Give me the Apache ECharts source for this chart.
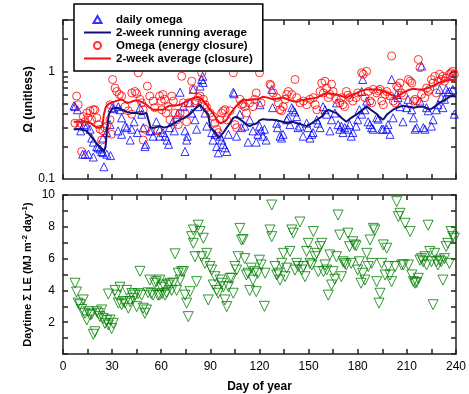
<!DOCTYPE html>
<html><head><meta charset="utf-8">
<script src="https://cdn.jsdelivr.net/npm/echarts@6/dist/echarts.min.js"></script>
<style>html,body{margin:0;padding:0;background:#fff}#c{width:469px;height:394px}</style>
</head><body><div id="c"></div>
<script>
// ---- data ----
var omegaDays = [6.7,7.3,8.8,10,10.8,12,12.8,13.5,14.5,15.5,16.5,17.5,18.5,18.5,20.6,21.4,22.6,23.6,24.4,24.4,25,26.7,26.7,28.7,29,30,31,33.6,33.8,34.8,35.8,35.8,37.9,39,41,42,43.4,45.4,47,48,49,50,50.5,53,54,55,57,59,59.2,61,62.5,63.5,64.5,65,67,68,70,71.5,73.5,74.5,74.5,75.5,76,77.6,78.6,79.5,80.6,81.6,82.5,83.7,84.7,85.3,85.6,86.7,87.8,90.8,91.6,92.8,93.8,94.8,95.9,96.9,97.7,99,100,101,104,104.5,106,108,109,111,113,114,116,118,119,120,120.3,121,122,123,124,127.5,128,130.5,131,132.5,133.5,134.4,136.6,137.4,138.6,139.7,140.5,141.5,142.7,143.5,144.7,146.6,148.8,149.6,150.8,151.9,152.7,155,155.7,157,158.8,160,161,163,164,166,167,168,169,170,171,172,174,175,176,177,179,180,181,182.4,182.4,183,184.4,185.5,186.3,187.5,188.5,189.4,191.6,192.5,194.6,195.5,197.7,198.5,199.7,200.7,201.6,203.8,204.6,205.8,207.6,209.9,210.7,213,214,215,216,218,219,220,221,222,223,225,226,228,229,230,231,232,233,234,235,236,237,238,239];
var omegaVals = [0.48,0.47,0.44,0.32,0.28,0.17,0.32,0.17,0.31,0.17,0.29,0.24,0.22,0.16,0.2,0.195,0.19,0.18,0.176,0.24,0.13,0.17,0.27,0.32,0.165,0.46,0.45,0.28,0.47,0.44,0.26,0.37,0.31,0.30,0.23,0.29,0.34,0.27,0.46,0.40,0.30,0.2,0.21,0.28,0.28,0.25,0.34,0.25,0.29,0.27,0.25,0.23,0.21,0.30,0.34,0.28,0.40,0.64,0.47,0.28,0.18,0.23,0.25,0.51,0.41,0.68,0.355,0.29,0.47,0.73,0.84,0.90,0.79,0.41,0.31,0.27,0.23,0.26,0.2,0.175,0.25,0.23,0.21,0.195,0.18,0.26,0.64,0.62,0.25,0.40,0.30,0.31,0.22,0.355,0.28,0.22,0.26,0.31,0.49,0.28,0.25,0.29,0.23,0.68,0.46,0.33,0.30,0.25,0.24,0.26,0.355,0.37,0.32,0.46,0.44,0.42,0.38,0.30,0.31,0.25,0.33,0.30,0.24,0.26,0.27,0.355,0.33,0.30,0.47,0.44,0.40,0.28,0.355,0.41,0.51,0.32,0.29,0.31,0.27,0.30,0.29,0.32,0.25,0.27,0.31,0.355,0.44,0.65,0.40,0.84,0.44,0.53,0.34,0.32,0.30,0.29,0.37,0.36,0.29,0.29,0.29,0.32,0.26,0.84,0.37,0.61,0.57,0.47,0.34,0.46,0.55,0.44,0.37,0.29,0.30,0.53,1.12,0.30,0.29,0.46,0.43,0.31,0.355,0.44,0.49,0.68,0.57,0.46,0.55,0.68,0.64,0.65,0.90,0.68,0.40];

var avgDays = [6.5,10,14.5,17,19,21,23,25,26,27,28,30,33,36,39,42,45,48,51,52,53.5,56,59,62,65,68,71.5,74,77.6,80,83.7,86,88.6,89.8,91,93,95,96,98,100,102,104,106,108,110,112,114,116,118.5,120,122,125,128,131,134,137,140,143,146,149,152,155,158,160,162,165,167,170,173,176,179.5,182,185.6,188,191.8,193,195.5,198,201.6,204,207.6,211,214,217,220,224,227,230,233,236,238,240];
var avgOmega = [0.29,0.29,0.28,0.25,0.23,0.21,0.195,0.18,0.2,0.3,0.4,0.45,0.46,0.44,0.42,0.41,0.41,0.40,0.41,0.36,0.30,0.30,0.31,0.30,0.31,0.33,0.355,0.37,0.40,0.44,0.49,0.44,0.40,0.31,0.29,0.27,0.24,0.23,0.27,0.30,0.33,0.37,0.38,0.36,0.34,0.32,0.31,0.32,0.33,0.35,0.36,0.355,0.355,0.35,0.34,0.33,0.34,0.33,0.32,0.31,0.33,0.355,0.38,0.42,0.44,0.42,0.41,0.37,0.34,0.37,0.40,0.43,0.47,0.44,0.40,0.38,0.355,0.40,0.44,0.46,0.48,0.47,0.46,0.47,0.47,0.44,0.47,0.51,0.54,0.58,0.59,0.58];

var closureDays = [7.3,8.3,9.3,10.4,11.4,12.4,13.4,14.5,15.3,16.5,17.5,18.5,19.5,20.6,21.6,22.6,23.6,24.4,25.6,26.7,28.7,28.7,29.7,30.3,31.8,32.8,34.4,35.8,37.9,39.9,42,42,44,45,46,47,48,49,49,50,51.5,53,55,56,58,59,60,60.3,61,62,63,64.3,65.3,66.4,67.4,68.4,69.4,70.4,71.5,72.5,73.5,74.5,75.5,76.5,78.6,79.6,80.6,81.6,82.6,83.7,84.7,85.7,86.7,87.8,89.8,91.8,92.8,93.9,94.8,95.9,96.9,97.9,98.9,100,102,104,105,106,108,109,110,111,112,114,116,117,118,120,121,126.4,127,128.4,130.5,131.5,132.5,133.5,134.5,135.6,136.6,137.6,139.7,141.7,142.7,144.7,146.8,148.8,150.8,152.9,154,155,157,158,159,160,161,162,163,164,165,167,169,170,171,172,173,174,175,177,179,180,182.4,183.4,184.4,185.4,186.4,187.5,188.5,189.5,191.6,192.6,193.6,194.6,195.6,196.7,197.7,199.7,200.7,201.7,202.8,203.8,204.8,205.8,206.8,208,210.9,212,213,214,215,216,217,218,219,221,222,223,224,225,226,227,228,229,230,231,232,233,234,236,237,238,239];
var closureVals = [0.33,0.59,0.49,0.33,0.18,0.38,0.34,0.41,0.37,0.43,0.355,0.44,0.44,0.37,0.32,0.29,0.23,0.28,0.30,0.31,0.355,0.49,0.26,0.84,0.70,0.65,0.61,0.59,0.47,0.43,0.40,0.63,0.65,0.62,0.97,0.55,0.51,0.44,0.23,0.29,0.73,0.59,0.53,0.46,0.28,0.59,0.53,0.44,0.61,0.55,0.41,0.47,0.355,0.59,0.53,0.41,0.355,0.32,0.41,0.90,0.51,0.41,0.34,0.51,0.81,0.68,0.51,0.53,0.57,0.59,0.97,0.55,0.49,0.46,0.41,0.38,0.33,0.29,0.27,0.355,0.41,0.43,0.44,0.355,0.43,0.97,0.32,0.30,0.55,0.49,0.50,0.47,0.41,0.51,0.47,0.55,0.63,0.97,0.51,0.76,0.74,0.63,0.57,0.51,0.44,0.43,0.47,0.55,0.61,0.65,0.61,0.84,0.57,0.51,0.53,0.49,0.55,0.57,0.49,0.44,0.65,0.78,0.63,0.81,0.70,0.57,0.61,0.76,0.65,0.55,0.51,0.57,0.49,0.47,0.65,0.60,0.57,0.53,0.57,0.63,0.97,0.94,0.57,1.0,0.65,0.53,0.51,0.68,0.63,0.66,0.68,0.53,0.49,0.61,0.65,0.59,1.39,0.53,0.51,0.73,0.70,0.78,0.63,0.60,0.84,0.81,0.78,0.53,0.55,0.53,1.29,1.08,0.61,0.57,0.70,0.65,0.68,0.84,0.78,0.90,0.63,0.81,0.94,0.84,0.90,0.81,0.87,0.94,0.97,1.0,0.94];

var closureAvgDays = [6.5,10,14.5,17,19,22,24,25,26,28,31,34,36,38,40,43,45,48,51,53,55,58,61,63,65,68,71.5,75,77.6,80,82.5,85,86.7,88,89.8,92,94,96,97,98.5,100,102,104,106,108,110,113,116,118.5,122,125,128,131,134,137,140,143,146,149,152,155,158,161,164,167,170,173,176,179.5,182,185.6,189,192,195,198,201,204,207.6,211,214,217,220,224,227,230,233,236,238,240];
var closureAvg = [0.34,0.34,0.34,0.33,0.31,0.30,0.31,0.40,0.46,0.50,0.52,0.54,0.55,0.52,0.51,0.53,0.54,0.52,0.49,0.46,0.44,0.44,0.44,0.46,0.48,0.48,0.49,0.52,0.55,0.57,0.58,0.55,0.51,0.48,0.44,0.40,0.355,0.33,0.32,0.34,0.355,0.40,0.44,0.48,0.51,0.55,0.54,0.55,0.55,0.58,0.57,0.55,0.56,0.57,0.55,0.53,0.52,0.54,0.55,0.56,0.57,0.60,0.63,0.62,0.61,0.59,0.57,0.60,0.63,0.66,0.68,0.68,0.68,0.66,0.63,0.60,0.58,0.63,0.67,0.69,0.68,0.68,0.71,0.75,0.79,0.81,0.84,0.83,0.81];

var leDays = [7.3,8.3,9.3,10.4,11.4,12.4,13.4,14.5,15.5,16.5,17.5,18.5,19.5,20.6,21.6,22.6,23.6,24.6,25.6,26.7,27.7,27.7,28.7,29.7,30.7,31.8,32.8,33.8,34.8,35.8,36.8,37.9,38.9,39.9,40.9,42,43,44,45,46,47,48,49,50,51,52,53,54,55,56,57,58,59,59.2,60,60.5,61.3,62.3,63.3,64.3,65.3,66.4,67.4,68.4,69.4,70.4,71.5,72.5,73.5,74.5,75.5,76.5,77.6,78.6,79.6,79.6,80.6,81.6,82.6,83.7,84.7,85.7,86.7,87.8,88.7,89.8,90.8,91.8,92.8,93.9,94.8,95.9,96.9,97.9,98.9,100,101,102,103,104,105,106,107,108,109,110,111,112,113,114,115,116,117,118,119,120,121,123,123.4,126.4,127.5,127.5,129.5,130.5,131.5,132.5,133.6,134.6,135.6,136.6,138.6,139.7,140.7,141.7,142.7,143.7,144.7,145.8,146.8,147.8,148.8,149.8,150.8,151.9,152.9,153.9,154.9,155.9,157,158,159,160,161,162,163,164,165,166,167,168,169,170,171,172,173,174,175,176,177,178,179,180,181,182,183,184.4,185.5,186.4,187.5,188.5,189.5,190.5,191.6,193,193.6,194.6,195.6,196.7,197.7,198.7,199.7,200.7,202.8,203.8,204.8,205.8,206.8,207.9,208.9,211,212,213,214,215,216,217,218,219,220,221,222,223,224,225,226,227,228,229,230,231,232,233,234,235,236,237,238,239];
var leVals = [4.45,3.9,3.2,3.1,2.8,3.4,2.56,2.14,2.66,2.45,2.5,1.24,1.4,2.66,2.56,2.35,2.77,2.24,1.93,2.1,1.82,3.77,2.14,1.6,1.93,4.0,3.7,3.2,4.2,3.1,3.3,3.2,4.0,2.88,3.3,3.8,3.5,3.7,2.98,3.8,5.2,3.7,2.88,2.56,2.77,3.85,4.65,3.8,3.7,4.45,4.55,3.7,3.7,4.65,4.2,3.8,4.34,3.7,3.85,4.34,4.45,4.0,4.45,6.3,4.0,5.08,4.65,5.18,5.18,3.7,3.2,2.35,3.92,7.38,7.8,6.96,6.12,4.55,8.1,7.7,6.12,7.28,5.7,6.33,3.4,5.5,5.28,4.34,4.86,4.0,3.82,4.65,4.45,4.23,3.4,2.98,4.23,4.76,4.76,3.82,5.5,5.28,6.12,7.9,7.17,7.2,6.0,4.97,5.08,4.0,5.4,4.65,5.18,3.92,5.08,5.9,5.6,3.0,5.08,7.8,7.38,9.37,5.5,4.97,5.08,4.65,5.7,6.33,4.86,5.4,6.45,7.8,7.6,5.28,5.7,5.5,8.3,5.28,5.5,4.86,6.45,6.96,5.7,5.6,7.7,6.12,6.33,5.18,6.75,6.96,5.18,5.6,5.28,3.7,6.23,4.34,5.18,4.7,6.12,8.74,7.48,4.86,5.8,5.7,5.6,7.6,6.75,5.7,7.06,6.86,6.8,5.28,5.8,4.45,5.08,4.65,6.33,5.5,7.17,5.7,7.9,7.8,4.55,3.2,3.82,5.7,6.86,4.97,6.65,5.5,4.97,4.55,5.5,9.58,8.64,8.85,5.6,5.6,8.22,5.6,7.7,4.97,4.55,4.45,4.5,4.76,5.9,6.0,5.8,6.12,5.6,8.1,6.45,5.8,3.1,6.33,5.8,5.6,5.9,5.8,4.65,6.0,6.75,6.96,5.7,7.7,7.38,7.28];

var omegaLabels = [0.1, 1];
var omegaMinorTicks = [0.2,0.3,0.4,0.5,0.6,0.7,0.8,0.9,1,2,3];

function zip(a, b) { return a.map(function (v, i) { return [v, b[i]]; }); }

var FONT = 'Liberation Sans';
var axisLineStyle = { color: '#222', width: 1.5 };
function xAx(grid, pos, labels) {
  return {
    type: 'value', gridIndex: grid, position: pos, min: 0, max: 240, interval: 15,
    axisLine: { show: true, onZero: false, lineStyle: axisLineStyle },
    axisTick: { show: true, inside: true, length: 5, lineStyle: { color: '#222', width: 1.5 } },
    axisLabel: labels ? {
      show: true, fontFamily: FONT, fontSize: 12, color: '#000', margin: 7,
      formatter: function (v) { return v % 30 === 0 ? String(v) : ''; }
    } : { show: false },
    splitLine: { show: false }
  };
}
function yLog(pos, labels) {
  return {
    type: 'log', logBase: 10, gridIndex: 0, position: pos, min: 0.1, max: 3,
    axisLine: { show: true, onZero: false, lineStyle: axisLineStyle },
    axisTick: { show: true, inside: true, length: 5, customValues: omegaMinorTicks, lineStyle: { color: '#222', width: 1.5 } },
    axisLabel: labels ? { show: true, customValues: omegaLabels, fontFamily: FONT, fontSize: 12, color: '#000', margin: 8,
      formatter: function (v) { return String(v); } } : { show: false },
    splitLine: { show: false }
  };
}
function yLin(pos, labels) {
  return {
    type: 'value', gridIndex: 1, position: pos, min: 0, max: 10, interval: 1,
    axisLine: { show: true, onZero: false, lineStyle: axisLineStyle },
    axisTick: { show: true, inside: true, length: 5, lineStyle: { color: '#222', width: 1.5 } },
    axisLabel: labels ? { show: true, fontFamily: FONT, fontSize: 12, color: '#000', margin: 8,
      formatter: function (v) { return (v % 2 === 0 && v > 0) ? String(v) : ''; } } : { show: false },
    splitLine: { show: false }
  };
}

var xAxes = [xAx(0, 'bottom', false), xAx(0, 'top', false), xAx(1, 'bottom', true), xAx(1, 'top', false)];
xAxes[2].name = 'Day of year';
xAxes[2].nameLocation = 'middle';
xAxes[2].nameGap = 27;
xAxes[2].nameTextStyle = { fontFamily: FONT, fontWeight: 'bold', fontSize: 12, color: '#000' };

var yAxes = [yLog('left', true), yLog('right', false), yLin('left', true), yLin('right', false)];
yAxes[0].name = 'Ω (unitless)';
yAxes[0].nameLocation = 'middle';
yAxes[0].nameGap = 28;
yAxes[0].nameMoveOverlap = false;
yAxes[0].nameRotate = 90;
yAxes[0].nameTextStyle = { fontFamily: FONT, fontWeight: 'bold', fontSize: 12, color: '#000' };
yAxes[2].name = 'Daytime Σ LE (MJ m{s|-2} day{s|-1})';
yAxes[2].nameLocation = 'middle';
yAxes[2].nameGap = 28;
yAxes[2].nameMoveOverlap = false;
yAxes[2].nameRotate = 90;
yAxes[2].nameTextStyle = { fontFamily: FONT, fontWeight: 'bold', fontSize: 11, color: '#000', lineHeight: 14,
  rich: { s: { fontFamily: FONT, fontWeight: 'bold', fontSize: 8, color: '#000', verticalAlign: 'top', lineHeight: 14 } } };

// legend icons (extent 27x8 kept by leading moveTo points)
var ICON_TRI = 'path://M0,0 M27,8 M13.5,0.5 L17.5,7.5 L9.5,7.5 Z';
var ICON_CIRC = 'path://M0,0 M27,8 M17,4 A3.5,3.5 0 1 1 10,4 A3.5,3.5 0 1 1 17,4 Z';
var ICON_LINE = 'path://M0,0 M27,8 M0,3 L27,3 L27,5 L0,5 Z';

var chart = echarts.init(document.getElementById('c'), null, { renderer: 'canvas' });
chart.setOption({
  backgroundColor: '#fff',
  animation: false,
  grid: [
    { left: 63, top: 20, width: 393, height: 159 },
    { left: 63, top: 195, width: 393, height: 159 }
  ],
  xAxis: xAxes,
  yAxis: yAxes,
  legend: {
    data: [
      { name: 'daily omega', icon: ICON_TRI },
      { name: '2-week running average', icon: ICON_LINE },
      { name: 'Omega (energy closure)', icon: ICON_CIRC },
      { name: '2-week average (closure)', icon: ICON_LINE }
    ],
    orient: 'vertical', left: 74, top: 4,
    itemWidth: 27, itemHeight: 8, itemGap: 0,
    padding: [9, 10, 6, 9],
    backgroundColor: '#fff', borderColor: '#000', borderWidth: 1.5,
    textStyle: { fontFamily: FONT, fontWeight: 'bold', fontSize: 11.5, color: '#000', lineHeight: 13 }
  },
  series: [
    { name: 'daily omega', type: 'scatter', xAxisIndex: 0, yAxisIndex: 0, data: zip(omegaDays, omegaVals),
      symbol: 'triangle', symbolSize: 8,
      itemStyle: { color: 'rgba(0,0,0,0)', borderColor: '#0000ff', borderWidth: 1 } },
    { name: '2-week running average', type: 'line', xAxisIndex: 0, yAxisIndex: 0, data: zip(avgDays, avgOmega),
      symbol: 'none', lineStyle: { color: '#10107a', width: 2 }, itemStyle: { color: '#10107a' } },
    { name: 'Omega (energy closure)', type: 'scatter', xAxisIndex: 0, yAxisIndex: 0, data: zip(closureDays, closureVals),
      symbol: 'circle', symbolSize: 8,
      itemStyle: { color: 'rgba(0,0,0,0)', borderColor: '#ff0000', borderWidth: 1 } },
    { name: '2-week average (closure)', type: 'line', xAxisIndex: 0, yAxisIndex: 0, data: zip(closureAvgDays, closureAvg),
      symbol: 'none', lineStyle: { color: '#ee1111', width: 2 }, itemStyle: { color: '#ee1111' } },
    { name: 'LE', type: 'scatter', xAxisIndex: 2, yAxisIndex: 2, data: zip(leDays, leVals),
      symbol: 'triangle', symbolRotate: 180, symbolSize: 10,
      itemStyle: { color: 'rgba(0,0,0,0)', borderColor: '#008000', borderWidth: 1 } }
  ]
});
</script></body></html>
